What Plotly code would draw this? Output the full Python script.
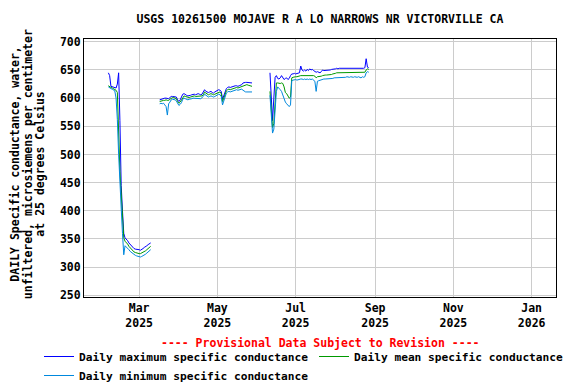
import pandas as pd
import plotly.graph_objects as go

TITLE = "USGS 10261500 MOJAVE R A LO NARROWS NR VICTORVILLE CA"
YTITLE_LINES = ["DAILY Specific conductance, water,",
                "unfiltered, microsiemens per centimeter",
                "at 25 degrees Celsius"]
PROVISIONAL = "---- Provisional Data Subject to Revision ----"

# Segment start dates (daily values follow consecutively)
seg_starts = ["2025-02-05", "2025-03-17", "2025-06-11"]

# Daily maximum specific conductance
max_seg1 = [645, 640, 621, 620, 620, 619, 618, 625, 645, 560, 445, 400, 360,
            352, 350, 347, 343, 340, 337, 335, 333, 332, 332, 331, 331, 330,
            331, 333, 335, 336, 338, 340, 341, 343]
max_seg2 = [597, 598, 599, 599, 600, 600, 600, 599, 601, 603, 603, 603, 603,
            602, 597, 594, 597, 602, 607, 608, 606, 605, 604, 604, 605, 606,
            607, 607, 606, 607, 608, 607, 606, 607, 610, 615, 612, 611, 610,
            611, 612, 610, 609, 611, 612, 614, 615, 614, 612, 598, 605, 612,
            617, 619, 620, 619, 620, 621, 621, 622, 622, 621, 622, 623, 624,
            627, 628, 628, 628, 628, 627, 627, 627]
max_seg3 = [645, 600, 560, 600, 637, 640, 635, 634, 636, 640, 637, 633, 635,
            636, 633, 635, 640, 643, 643, 644, 643, 644, 644, 645, 657, 650,
            648, 650, 648, 651, 649, 652, 650, 651, 649, 648, 646, 647, 646,
            645, 647, 650, 649, 649, 650, 650, 650, 650, 651, 651, 651, 652,
            653, 652, 653, 653, 652, 653, 653, 652, 653, 653, 652, 653, 653,
            652, 653, 653, 652, 653, 653, 652, 653, 653, 654, 670, 655, 654]

# Daily mean specific conductance
mean_seg1 = [622, 620, 619, 618, 617, 616, 614, 610, 525, 470, 430, 385, 352,
             346, 344, 341, 337, 334, 331, 329, 327, 326, 325, 325, 324, 324,
             325, 326, 328, 329, 331, 333, 335, 337]
mean_seg2 = [594, 595, 595, 596, 596, 597, 596, 596, 598, 600, 601, 601, 600,
             599, 594, 591, 593, 597, 602, 604, 603, 602, 601, 601, 602, 603,
             603, 604, 603, 603, 604, 604, 603, 604, 606, 611, 609, 607, 606,
             607, 608, 607, 606, 607, 608, 610, 611, 611, 608, 594, 600, 608,
             613, 615, 616, 615, 616, 617, 618, 618, 619, 618, 619, 619, 620,
             622, 623, 624, 624, 623, 622, 622, 621]
mean_seg3 = [612, 575, 548, 555, 600, 627, 627, 626, 626, 627, 626, 620, 610,
             608, 605, 600, 602, 636, 637, 638, 638, 638, 639, 639, 640, 640,
             640, 640, 640, 641, 640, 641, 640, 641, 640, 639, 636, 638, 638,
             639, 639, 640, 641, 641, 641, 641, 642, 642, 642, 643, 643, 644,
             645, 645, 645, 645, 645, 645, 645, 645, 645, 645, 646, 645, 645,
             646, 645, 645, 646, 645, 646, 645, 645, 646, 646, 650, 652, 651]

# Daily minimum specific conductance
min_seg1 = [620, 618, 617, 616, 615, 613, 600, 562, 500, 440, 405, 360, 322,
            338, 336, 334, 331, 328, 326, 324, 322, 321, 320, 319, 318, 318,
            319, 320, 322, 323, 325, 327, 329, 331]
min_seg2 = [590, 591, 590, 591, 588, 585, 570, 590, 593, 597, 598, 598, 597,
            595, 590, 587, 589, 592, 598, 600, 599, 598, 597, 598, 598, 599,
            600, 600, 599, 599, 600, 600, 599, 601, 603, 607, 605, 603, 602,
            603, 604, 603, 602, 603, 604, 606, 607, 606, 603, 588, 595, 603,
            609, 611, 612, 611, 612, 613, 614, 614, 615, 614, 615, 615, 616,
            614, 612, 611, 611, 611, 611, 611, 611]
min_seg3 = [605, 560, 538, 545, 575, 612, 620, 618, 615, 612, 605, 600, 593,
            590, 588, 585, 588, 631, 632, 633, 633, 632, 633, 634, 634, 634,
            633, 634, 633, 634, 633, 634, 633, 634, 632, 630, 612, 630, 631,
            632, 633, 633, 634, 634, 634, 635, 635, 634, 635, 635, 636, 636,
            637, 636, 637, 637, 637, 636, 637, 637, 638, 637, 637, 638, 637,
            637, 638, 637, 637, 638, 637, 636, 638, 637, 638, 645, 647, 646]

x_range = ["2025-01-17", "2026-01-20"]
tick_dates = ["2025-03-01", "2025-05-01", "2025-07-01", "2025-09-01",
              "2025-11-01", "2026-01-01"]
tick_labels = ["Mar<br>2025", "May<br>2025", "Jul<br>2025", "Sep<br>2025",
               "Nov<br>2025", "Jan<br>2026"]
y_ticks = [250, 300, 350, 400, 450, 500, 550, 600, 650, 700]


def join_segments(starts, segs):
    xs, ys = [], []
    for i, (s, vals) in enumerate(zip(starts, segs)):
        dates = pd.date_range(s, periods=len(vals), freq="D")
        if i > 0:
            gap = dates[0] - pd.Timedelta(days=1)
            xs.append(gap)
            ys.append(None)
        xs.extend(list(dates))
        ys.extend(vals)
    return xs, ys


FONT = "DejaVu Sans Mono"
FS = 11.5
W, H = 568, 376   # page body adds an 8px margin on the top/left
ML, MT, PW, PH = 76, 31, 472, 258

series = [
    ("Daily maximum specific conductance", [max_seg1, max_seg2, max_seg3], "#0000ff"),
    ("Daily mean specific conductance", [mean_seg1, mean_seg2, mean_seg3], "#009900"),
    ("Daily minimum specific conductance", [min_seg1, min_seg2, min_seg3], "#0088dd"),
]

fig = go.Figure()
for name, segs, color in series:
    xs, ys = join_segments(seg_starts, segs)
    fig.add_trace(go.Scatter(x=xs, y=ys, mode="lines", name=name,
                             line=dict(color=color, width=1),
                             connectgaps=False))

annotations = [
    dict(text=PROVISIONAL, xref="paper", yref="paper", x=0.5, y=(297 - 343) / 258,
         xanchor="center", yanchor="middle", showarrow=False,
         font=dict(family=FONT, size=FS, color="#ff0000", weight="bold")),
]
for px, line in zip([15.5, 28, 40.5], YTITLE_LINES):
    annotations.append(dict(text=line, xref="paper", yref="paper",
                            x=(px - 84) / 472, y=0.515, textangle=-90,
                            xanchor="center", yanchor="middle", showarrow=False,
                            font=dict(family=FONT, size=FS, color="black", weight="bold")))

fig.update_layout(
    width=W, height=H,
    margin=dict(l=ML, r=W - ML - PW, t=MT, b=H - MT - PH, autoexpand=False),
    paper_bgcolor="white", plot_bgcolor="white",
    font=dict(family=FONT, size=FS, color="black", weight="bold"),
    title=dict(text=TITLE, x=0.5, xref="paper", y=1 - 11 / H, yref="container",
               xanchor="center", yanchor="middle",
               font=dict(family=FONT, size=FS, color="black", weight="bold")),
    showlegend=True,
    legend=dict(orientation="h", xref="paper", yref="paper",
                x=(31 - ML) / PW, y=(MT + PH - 334) / PH, xanchor="left", yanchor="top",
                entrywidth=230, entrywidthmode="pixels", itemwidth=30,
                font=dict(family=FONT, size=11.2, color="black", weight="bold"),
                bgcolor="rgba(0,0,0,0)", tracegroupgap=0),
    annotations=annotations,
)
fig.update_xaxes(type="date", range=x_range, tickvals=tick_dates, ticktext=tick_labels,
                 showgrid=True, gridcolor="#cccccc", gridwidth=1,
                 showline=True, linecolor="black", linewidth=1, mirror=True,
                 ticks="", zeroline=False)
fig.update_yaxes(range=[247, 705], tickvals=y_ticks,
                 showgrid=True, gridcolor="#cccccc", gridwidth=1,
                 showline=True, linecolor="black", linewidth=1, mirror=True,
                 ticks="", zeroline=False)

fig.write_html("out.html")
